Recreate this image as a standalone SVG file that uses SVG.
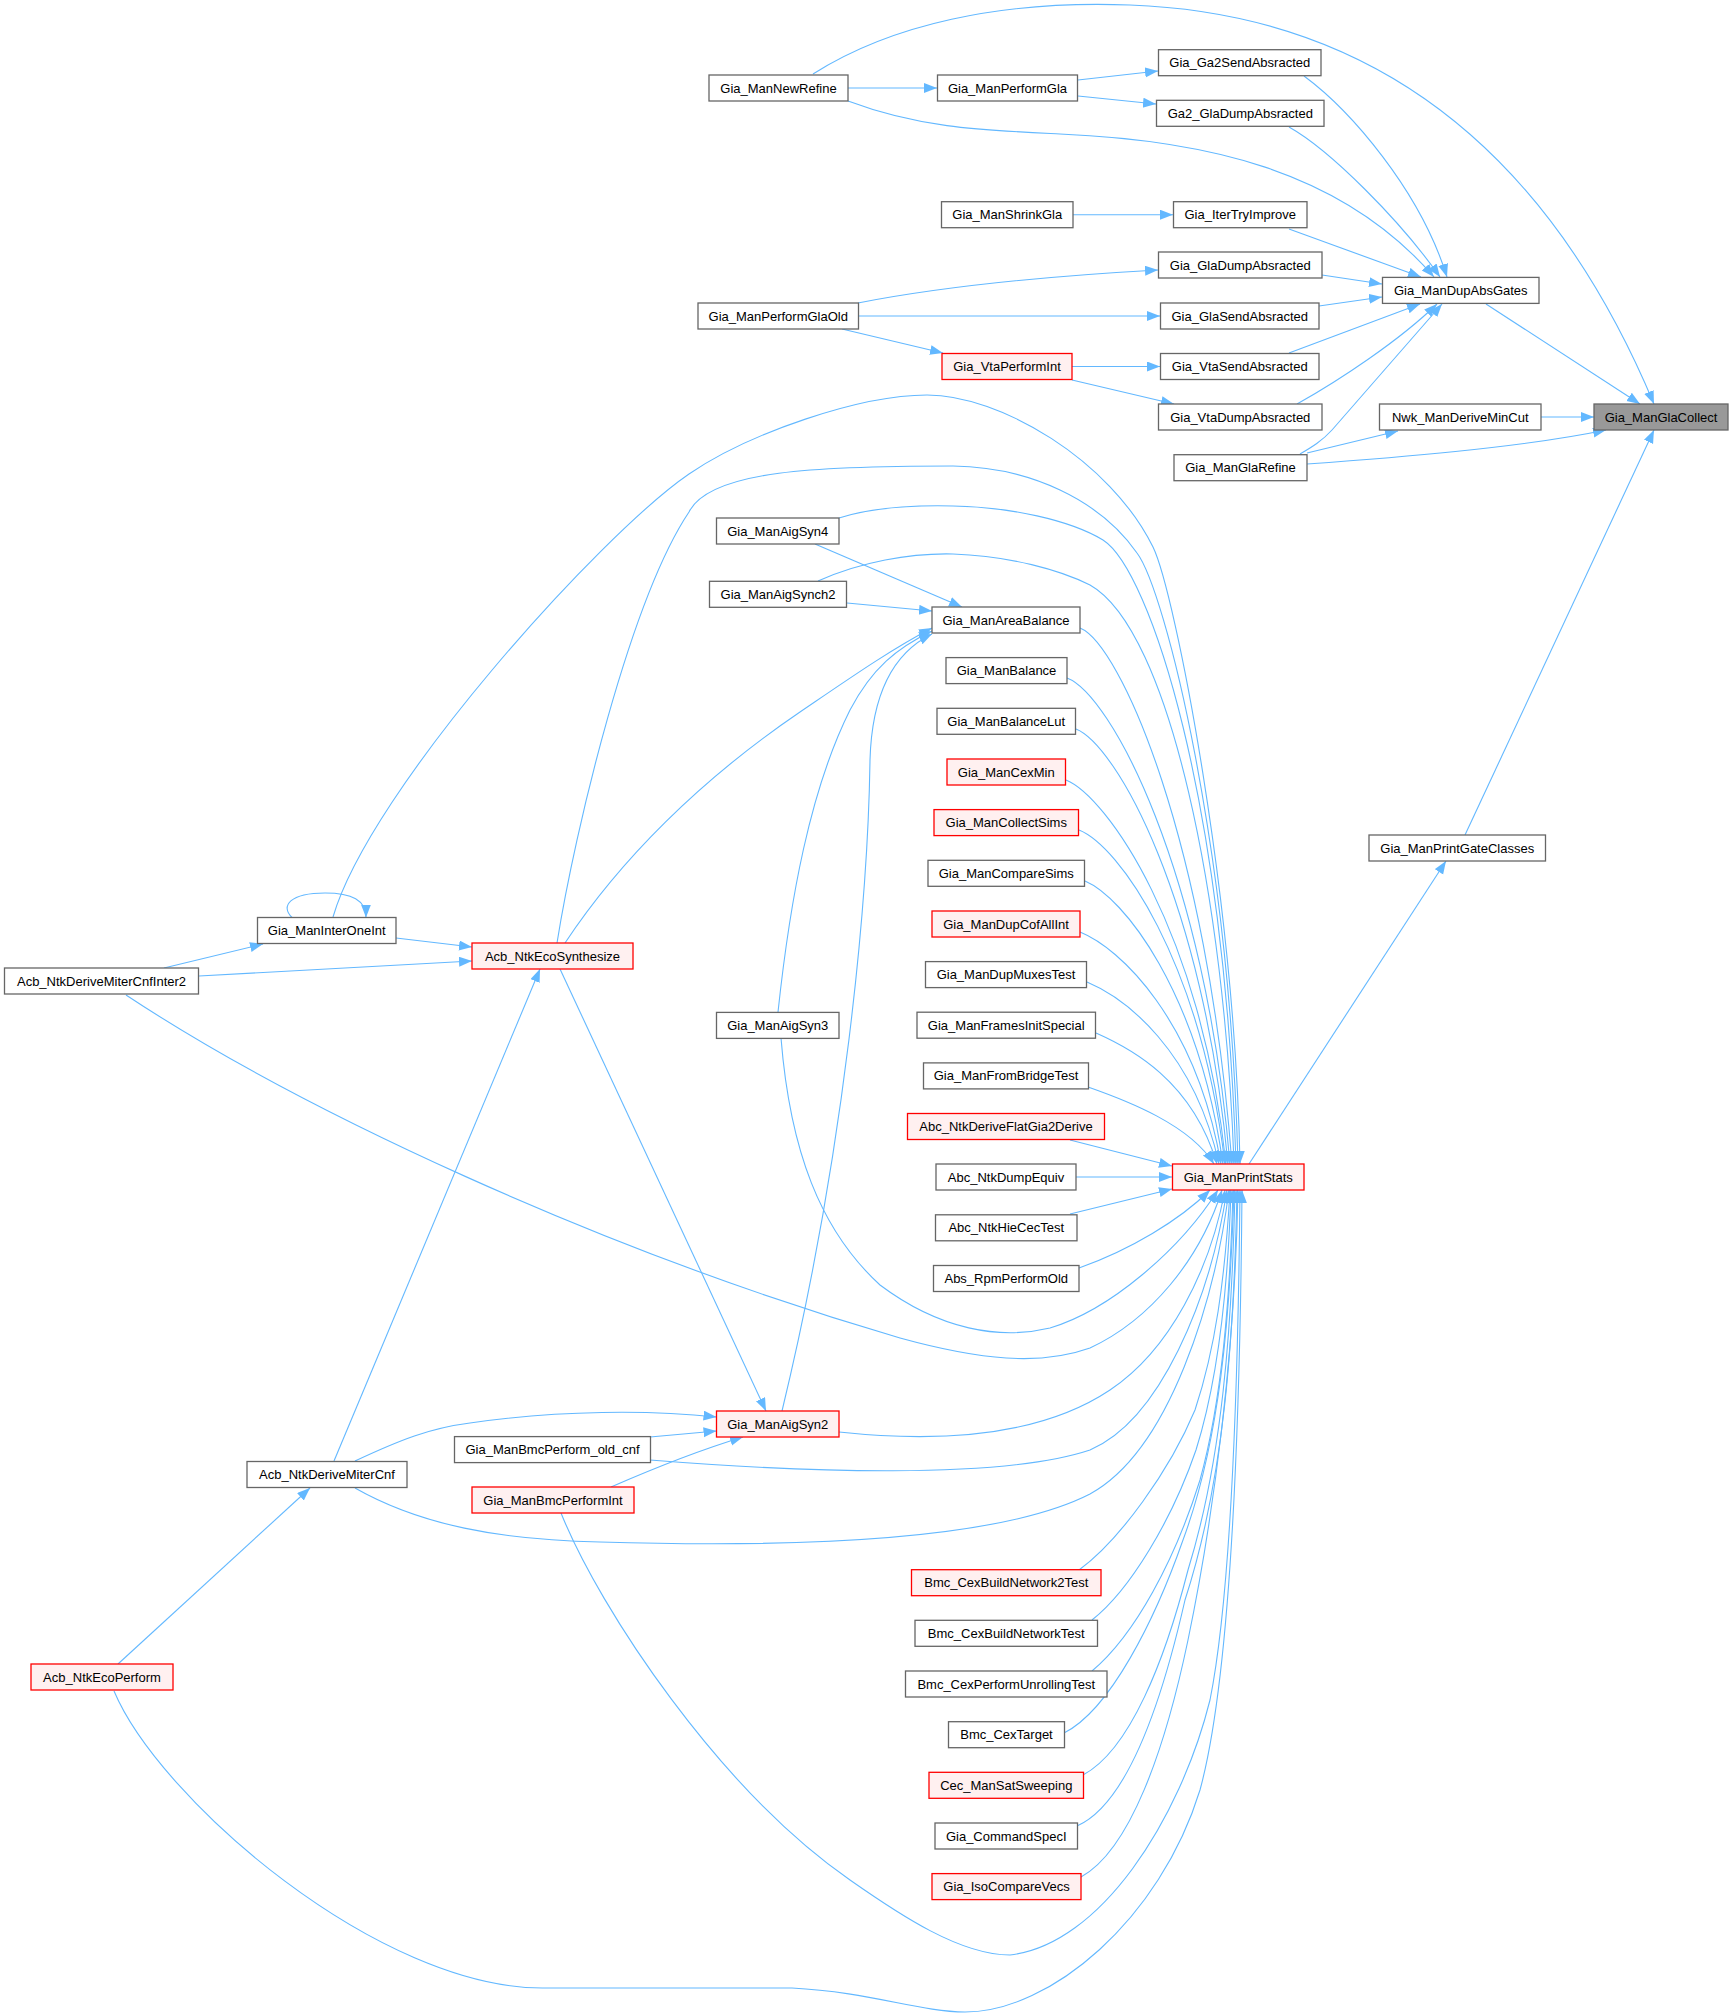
<svg xmlns="http://www.w3.org/2000/svg" width="1733" height="2016" viewBox="0 0 1733 2016">
<style>
.node rect{fill:#ffffff;stroke:#666666;stroke-width:1.3}
.node.red rect{fill:#fff0f0;stroke:#ff0000}
.node.root rect{fill:#999999;stroke:#666666}
text{font-family:"Liberation Sans",Arial,Helvetica,sans-serif;font-size:13px;text-anchor:middle;fill:#000000}
.edges path{fill:none;stroke:#63b8ff;stroke-width:1.1;marker-end:url(#arr)}
</style>
<defs>
<marker id="arr" markerUnits="userSpaceOnUse" markerWidth="14" markerHeight="11" refX="13" refY="5" orient="auto">
<path d="M0,0 L13,5 L0,10 z" fill="#63b8ff" stroke="none"/>
</marker>
</defs>
<rect width="1733" height="2016" fill="#ffffff"/>
<g class="edges">
<path d="M813,74 C890,25 1000,0 1130,5 C1400,15 1560,180 1654,404"/>
<path d="M1486,304 L1640,404"/>
<path d="M1541,417 L1594,417"/>
<path d="M1307,464 C1390,458 1520,448 1606,430"/>
<path d="M1465,835 L1654,430"/>
<path d="M1304,76 C1350,110 1420,190 1447,277"/>
<path d="M1289,127 C1330,150 1400,220 1440,277"/>
<path d="M848,101 C920,128 980,130 1060,134 C1200,140 1340,168 1434,277"/>
<path d="M1289,229 L1421,277"/>
<path d="M1322,275 L1382,284"/>
<path d="M1319,306 L1382,297"/>
<path d="M1289,353 L1420,304"/>
<path d="M1297,404 C1340,380 1400,340 1437,304"/>
<path d="M1300,454 C1312,447 1322,441 1332,430 L1442,304"/>
<path d="M1307,453 L1398,431"/>
<path d="M848,88 L937,88"/>
<path d="M1078,80 L1158,71"/>
<path d="M1078,96 L1156,104"/>
<path d="M1073,214.7 L1173,214.7"/>
<path d="M858,303 C940,287 1050,276 1158,270"/>
<path d="M858,316 L1160,316"/>
<path d="M842,329 L943,353"/>
<path d="M1072,366.5 L1160,366.5"/>
<path d="M1072,380 L1174,404"/>
<path d="M1249,1164 L1446,861"/>
<path d="M333,917 C370,790 600,535 689,474 C749,433 860,395 927,395 C1000,395 1110,460 1153,547 C1175,592 1235,900 1240,1164"/>
<path d="M557,943 C575,830 630,600 689,512 C710,470 820,466 953,466 C1030,467 1100,500 1137,553 C1165,590 1230,850 1238,1164"/>
<path d="M839,518 C870,508 910,505 953,506 C1010,507 1070,520 1103,540 C1150,570 1225,800 1236,1164"/>
<path d="M818,581 C860,562 910,553 953,554 C1010,556 1060,570 1090,585 C1170,630 1225,900 1234,1164"/>
<path d="M815,544 L962,607"/>
<path d="M847,603 L932,611"/>
<path d="M565,943 C620,860 700,780 800,712 C850,678 890,650 932,628"/>
<path d="M778,1012 C790,900 810,790 850,710 C872,668 897,648 932,631"/>
<path d="M782,1411 C845,1150 868,900 870,760 C872,690 895,652 932,634"/>
<path d="M292,917.5 C280,906 290,893 325,893 C352,893 366,900 366,917.5"/>
<path d="M396,938 L472,947"/>
<path d="M164,968 L263,944"/>
<path d="M199,976 L472,961"/>
<path d="M334,1461 L540,969"/>
<path d="M560,969 L766,1411"/>
<path d="M355,1461 C400,1440 430,1428 470,1423 C560,1410 650,1410 716.5,1417"/>
<path d="M650,1437 L716.5,1431"/>
<path d="M611,1487 C650,1470 700,1450 743,1437"/>
<path d="M118,1664 L310,1488"/>
<path d="M1080,628 C1120,644 1207,838 1232,1164"/>
<path d="M1067,678 C1110,694 1205,868 1230,1164"/>
<path d="M1076,729 C1116,745 1203,898 1228,1164"/>
<path d="M1066,780 C1106,796 1201,929 1226,1164"/>
<path d="M1079,830 C1119,846 1200,959 1225,1164"/>
<path d="M1085,881 C1123,897 1198,990 1223,1164"/>
<path d="M1080,932 C1120,948 1196,1020 1221,1164"/>
<path d="M1087,982 C1125,998 1194,1050 1219,1164"/>
<path d="M1096,1033 C1130,1048 1192,1080 1217,1164"/>
<path d="M1088,1087 C1128,1101 1190,1125 1214,1164"/>
<path d="M1070,1140 L1172,1166"/>
<path d="M1076,1177 L1172,1177"/>
<path d="M1070,1214 L1172,1189"/>
<path d="M1079,1268 C1130,1250 1180,1220 1210,1190"/>
<path d="M781,1038 C790,1150 820,1230 880,1285 C940,1330 1000,1340 1050,1328 C1110,1310 1180,1250 1218,1190"/>
<path d="M126,995 C300,1110 600,1250 900,1338 C980,1360 1040,1366 1090,1348 C1150,1320 1200,1260 1222,1190"/>
<path d="M839,1432 C960,1445 1050,1430 1110,1390 C1170,1350 1210,1270 1225,1190"/>
<path d="M650,1460 C800,1472 1000,1480 1090,1450 C1160,1420 1210,1300 1227,1190"/>
<path d="M355,1488 C420,1525 500,1540 600,1542 C800,1548 1000,1540 1090,1494 C1170,1450 1215,1300 1229,1190"/>
<path d="M1079,1570 C1120,1540 1170,1470 1195,1410 C1215,1350 1225,1280 1230,1190"/>
<path d="M1092,1620 C1130,1590 1172,1520 1196,1450 C1218,1380 1228,1290 1231,1190"/>
<path d="M1092,1671 C1135,1635 1175,1560 1200,1480 C1222,1400 1230,1300 1233,1190"/>
<path d="M1064,1733 C1110,1710 1155,1620 1183,1540 C1220,1440 1230,1320 1234,1190"/>
<path d="M1083,1775 C1130,1750 1165,1660 1188,1570 C1222,1460 1232,1330 1235,1190"/>
<path d="M1077,1826 C1125,1805 1160,1710 1185,1600 C1224,1480 1234,1340 1237,1190"/>
<path d="M1081,1877 C1130,1850 1165,1750 1188,1640 C1215,1510 1235,1350 1238,1190"/>
<path d="M561,1513 C600,1610 720,1790 850,1880 C900,1915 960,1955 1010,1955 C1100,1945 1180,1820 1210,1700 C1230,1600 1238,1400 1240,1190"/>
<path d="M114,1691 C160,1800 380,1990 545,1988 L792,1988 C870,1992 920,2012 965,2012 C1050,2012 1160,1920 1200,1790 C1230,1680 1240,1450 1242,1190"/>
</g>
<g id="n_Gia_ManGlaCollect" class="node root"><rect x="1594" y="404" width="134" height="26"/><text x="1661" y="421.5">Gia_ManGlaCollect</text></g>
<g id="n_Gia_ManNewRefine" class="node"><rect x="709" y="75" width="139" height="26"/><text x="778.5" y="92.5">Gia_ManNewRefine</text></g>
<g id="n_Gia_ManPerformGla" class="node"><rect x="937.5" y="75" width="140" height="26"/><text x="1007.5" y="92.5">Gia_ManPerformGla</text></g>
<g id="n_Gia_Ga2SendAbsracted" class="node"><rect x="1158.5" y="49.7" width="162.5" height="26"/><text x="1239.75" y="67.2">Gia_Ga2SendAbsracted</text></g>
<g id="n_Ga2_GlaDumpAbsracted" class="node"><rect x="1156.5" y="100.3" width="167.5" height="26"/><text x="1240.25" y="117.8">Ga2_GlaDumpAbsracted</text></g>
<g id="n_Gia_ManShrinkGla" class="node"><rect x="941.5" y="201.7" width="131.5" height="26"/><text x="1007.25" y="219.2">Gia_ManShrinkGla</text></g>
<g id="n_Gia_IterTryImprove" class="node"><rect x="1173.5" y="201.7" width="133.5" height="26"/><text x="1240.25" y="219.2">Gia_IterTryImprove</text></g>
<g id="n_Gia_GlaDumpAbsracted" class="node"><rect x="1158.5" y="252" width="163.5" height="26"/><text x="1240.25" y="269.5">Gia_GlaDumpAbsracted</text></g>
<g id="n_Gia_ManPerformGlaOld" class="node"><rect x="698" y="303" width="160.5" height="26"/><text x="778.25" y="320.5">Gia_ManPerformGlaOld</text></g>
<g id="n_Gia_GlaSendAbsracted" class="node"><rect x="1160.5" y="303" width="158.5" height="26"/><text x="1239.75" y="320.5">Gia_GlaSendAbsracted</text></g>
<g id="n_Gia_VtaPerformInt" class="node red"><rect x="942" y="353.5" width="130" height="26"/><text x="1007" y="371">Gia_VtaPerformInt</text></g>
<g id="n_Gia_VtaSendAbsracted" class="node"><rect x="1160.5" y="353.5" width="158.5" height="26"/><text x="1239.75" y="371">Gia_VtaSendAbsracted</text></g>
<g id="n_Gia_VtaDumpAbsracted" class="node"><rect x="1158.5" y="404" width="163.5" height="26"/><text x="1240.25" y="421.5">Gia_VtaDumpAbsracted</text></g>
<g id="n_Gia_ManDupAbsGates" class="node"><rect x="1382.5" y="277.4" width="156.5" height="26"/><text x="1460.75" y="294.9">Gia_ManDupAbsGates</text></g>
<g id="n_Nwk_ManDeriveMinCut" class="node"><rect x="1379.5" y="404" width="161.5" height="26"/><text x="1460.25" y="421.5">Nwk_ManDeriveMinCut</text></g>
<g id="n_Gia_ManGlaRefine" class="node"><rect x="1174" y="454.7" width="133" height="26"/><text x="1240.5" y="472.2">Gia_ManGlaRefine</text></g>
<g id="n_Gia_ManPrintGateClasses" class="node"><rect x="1369" y="835" width="176.5" height="26"/><text x="1457.25" y="852.5">Gia_ManPrintGateClasses</text></g>
<g id="n_Gia_ManPrintStats" class="node red"><rect x="1172.5" y="1164" width="131.5" height="26"/><text x="1238.25" y="1181.5">Gia_ManPrintStats</text></g>
<g id="n_Gia_ManAigSyn4" class="node"><rect x="716.5" y="518" width="122.5" height="26"/><text x="777.75" y="535.5">Gia_ManAigSyn4</text></g>
<g id="n_Gia_ManAigSynch2" class="node"><rect x="709.5" y="581.3" width="137" height="26"/><text x="778" y="598.8">Gia_ManAigSynch2</text></g>
<g id="n_Gia_ManAreaBalance" class="node"><rect x="932" y="607" width="148" height="26"/><text x="1006" y="624.5">Gia_ManAreaBalance</text></g>
<g id="n_Gia_ManBalance" class="node"><rect x="946" y="657.6" width="121" height="26"/><text x="1006.5" y="675.1">Gia_ManBalance</text></g>
<g id="n_Gia_ManBalanceLut" class="node"><rect x="937" y="708.3" width="138.5" height="26"/><text x="1006.25" y="725.8">Gia_ManBalanceLut</text></g>
<g id="n_Gia_ManCexMin" class="node red"><rect x="947" y="759" width="118.5" height="26"/><text x="1006.25" y="776.5">Gia_ManCexMin</text></g>
<g id="n_Gia_ManCollectSims" class="node red"><rect x="934" y="809.6" width="144.5" height="26"/><text x="1006.25" y="827.1">Gia_ManCollectSims</text></g>
<g id="n_Gia_ManCompareSims" class="node"><rect x="928" y="860.3" width="156.5" height="26"/><text x="1006.25" y="877.8">Gia_ManCompareSims</text></g>
<g id="n_Gia_ManDupCofAllInt" class="node red"><rect x="932" y="911" width="148" height="26"/><text x="1006" y="928.5">Gia_ManDupCofAllInt</text></g>
<g id="n_Gia_ManDupMuxesTest" class="node"><rect x="925.5" y="961.6" width="161" height="26"/><text x="1006" y="979.1">Gia_ManDupMuxesTest</text></g>
<g id="n_Gia_ManFramesInitSpecial" class="node"><rect x="917" y="1012.2" width="178.5" height="26"/><text x="1006.25" y="1029.7">Gia_ManFramesInitSpecial</text></g>
<g id="n_Gia_ManFromBridgeTest" class="node"><rect x="923.5" y="1062.9" width="165" height="26"/><text x="1006" y="1080.4">Gia_ManFromBridgeTest</text></g>
<g id="n_Abc_NtkDeriveFlatGia2Derive" class="node red"><rect x="907.5" y="1113.5" width="197" height="26"/><text x="1006" y="1131">Abc_NtkDeriveFlatGia2Derive</text></g>
<g id="n_Abc_NtkDumpEquiv" class="node"><rect x="936" y="1164" width="140" height="26"/><text x="1006" y="1181.5">Abc_NtkDumpEquiv</text></g>
<g id="n_Abc_NtkHieCecTest" class="node"><rect x="935.5" y="1214.8" width="141.5" height="26"/><text x="1006.25" y="1232.3">Abc_NtkHieCecTest</text></g>
<g id="n_Abs_RpmPerformOld" class="node"><rect x="933.5" y="1265.5" width="145.5" height="26"/><text x="1006.25" y="1283">Abs_RpmPerformOld</text></g>
<g id="n_Gia_ManInterOneInt" class="node"><rect x="257.5" y="917.5" width="138.5" height="26"/><text x="326.75" y="935">Gia_ManInterOneInt</text></g>
<g id="n_Acb_NtkEcoSynthesize" class="node red"><rect x="472" y="943" width="161" height="26"/><text x="552.5" y="960.5">Acb_NtkEcoSynthesize</text></g>
<g id="n_Acb_NtkDeriveMiterCnfInter2" class="node"><rect x="4.5" y="968" width="194" height="26"/><text x="101.5" y="985.5">Acb_NtkDeriveMiterCnfInter2</text></g>
<g id="n_Gia_ManAigSyn3" class="node"><rect x="716.5" y="1012.4" width="122.5" height="26"/><text x="777.75" y="1029.9">Gia_ManAigSyn3</text></g>
<g id="n_Gia_ManAigSyn2" class="node red"><rect x="716.5" y="1411" width="122.5" height="26"/><text x="777.75" y="1428.5">Gia_ManAigSyn2</text></g>
<g id="n_Gia_ManBmcPerform_old_cnf" class="node"><rect x="454.5" y="1436.6" width="196" height="26"/><text x="552.5" y="1454.1">Gia_ManBmcPerform_old_cnf</text></g>
<g id="n_Acb_NtkDeriveMiterCnf" class="node"><rect x="247" y="1461.5" width="160" height="26"/><text x="327" y="1479">Acb_NtkDeriveMiterCnf</text></g>
<g id="n_Gia_ManBmcPerformInt" class="node red"><rect x="472" y="1487" width="162" height="26"/><text x="553" y="1504.5">Gia_ManBmcPerformInt</text></g>
<g id="n_Acb_NtkEcoPerform" class="node red"><rect x="31" y="1664" width="142" height="26"/><text x="102" y="1681.5">Acb_NtkEcoPerform</text></g>
<g id="n_Bmc_CexBuildNetwork2Test" class="node red"><rect x="911.5" y="1569.7" width="189.5" height="26"/><text x="1006.25" y="1587.2">Bmc_CexBuildNetwork2Test</text></g>
<g id="n_Bmc_CexBuildNetworkTest" class="node"><rect x="915" y="1620.3" width="182.5" height="26"/><text x="1006.25" y="1637.8">Bmc_CexBuildNetworkTest</text></g>
<g id="n_Bmc_CexPerformUnrollingTest" class="node"><rect x="905.5" y="1671" width="201.5" height="26"/><text x="1006.25" y="1688.5">Bmc_CexPerformUnrollingTest</text></g>
<g id="n_Bmc_CexTarget" class="node"><rect x="948.5" y="1721.7" width="116" height="26"/><text x="1006.5" y="1739.2">Bmc_CexTarget</text></g>
<g id="n_Cec_ManSatSweeping" class="node red"><rect x="929" y="1772.3" width="154.5" height="26"/><text x="1006.25" y="1789.8">Cec_ManSatSweeping</text></g>
<g id="n_Gia_CommandSpecI" class="node"><rect x="935" y="1823" width="142.5" height="26"/><text x="1006.25" y="1840.5">Gia_CommandSpecI</text></g>
<g id="n_Gia_IsoCompareVecs" class="node red"><rect x="932" y="1873.6" width="149" height="26"/><text x="1006.5" y="1891.1">Gia_IsoCompareVecs</text></g>
</svg>
